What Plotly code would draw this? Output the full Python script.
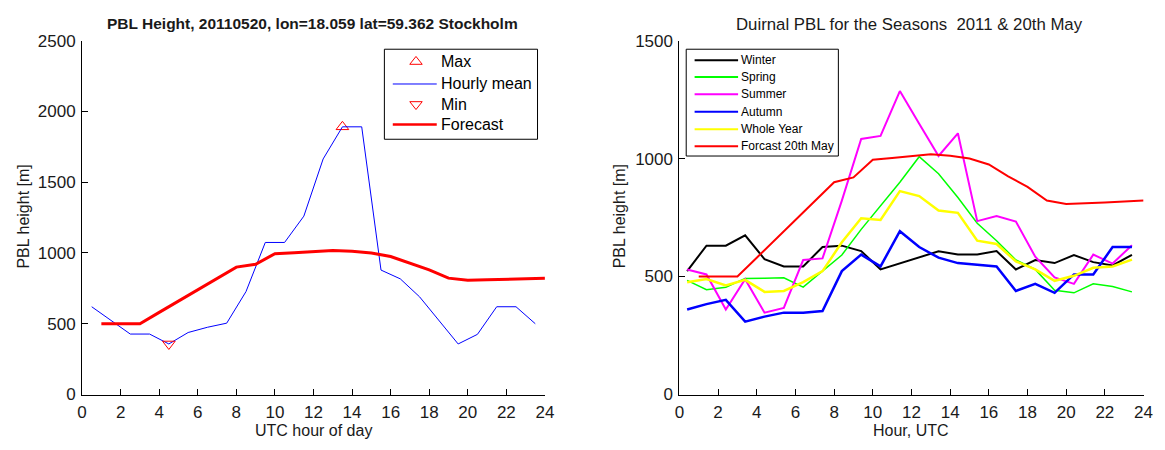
import plotly.graph_objects as go

# ---- Stockholm, 2011-05-20: hourly mean PBL height and forecast ----
hour_mid = [0.5, 1.5, 2.5, 3.5, 4.5, 5.5, 6.5, 7.5, 8.5, 9.5, 10.5, 11.5,
            12.5, 13.5, 14.5, 15.5, 16.5, 17.5, 18.5, 19.5, 20.5, 21.5, 22.5, 23.5]
hourly_mean = [620, 525, 427, 427, 357, 438, 475, 504, 727, 1074, 1074, 1260,
               1664, 1891, 1891, 879, 817, 690, 520, 357, 425, 620, 620, 500]
max_hour = [13.5]
max_value = [1891]
min_hour = [4.5]
min_value = [357]

forecast_hour = [1, 2, 3, 4, 5, 6, 7, 8, 9, 10, 11, 12,
                 13, 14, 15, 16, 17, 18, 19, 20, 21, 22, 23, 24]
forecast = [500, 500, 500, 580, 660, 740, 820, 900, 920, 995, 1002, 1010,
            1018, 1012, 1000, 975, 925, 880, 822, 808, 810, 814, 818, 822]

# ---- Seasonal diurnal means, 2011 ----
season_hour = [0.4, 1.4, 2.4, 3.4, 4.4, 5.4, 6.4, 7.4, 8.4, 9.4, 10.4, 11.4,
               12.4, 13.4, 14.4, 15.4, 16.4, 17.4, 18.4, 19.4, 20.4, 21.4, 22.4, 23.4]
winter = [523, 631, 631, 675, 574, 543, 543, 625, 631, 608, 530, 555,
          580, 607, 593, 593, 608, 530, 570, 557, 591, 561, 547, 592]
spring = [484, 444, 455, 492, 493, 495, 455, 523, 591, 700, 801, 900,
          1008, 936, 835, 726, 652, 570, 530, 442, 431, 469, 458, 435]
summer = [530, 509, 360, 489, 347, 367, 570, 577, 822, 1083, 1096, 1286,
          1148, 1011, 1107, 735, 756, 733, 584, 496, 469, 593, 555, 633]
autumn = [360, 383, 401, 309, 330, 347, 347, 354, 523, 593, 543, 692,
          625, 580, 557, 550, 543, 439, 469, 431, 509, 509, 625, 625]
whole_year = [476, 489, 462, 486, 435, 439, 476, 523, 645, 747, 740, 862,
              841, 780, 770, 652, 638, 564, 530, 482, 503, 537, 543, 572]

season_names = ["Winter", "Spring", "Summer", "Autumn", "Whole Year"]
season_values = [winter, spring, summer, autumn, whole_year]
season_colors = ["#000000", "#00FF00", "#FF00FF", "#0000FF", "#FFFF00"]
season_widths = [2, 1.5, 2, 2.5, 2.5]

W, H = 1165, 450
FONT = "Liberation Sans, Arial, Helvetica, sans-serif"
TEXT = "#1a1a1a"


def px_x(x):
    return x / W


def px_y(y):
    return 1 - y / H


fig = go.Figure()

# left panel
fig.add_trace(go.Scatter(
    x=max_hour, y=max_value, mode="markers", name="Max",
    marker=dict(symbol="triangle-up-open", color="#FF0000", size=11,
                line=dict(width=1)),
    xaxis="x", yaxis="y"))
fig.add_trace(go.Scatter(
    x=hour_mid, y=hourly_mean, mode="lines", name="Hourly mean",
    line=dict(color="#0000FF", width=1),
    xaxis="x", yaxis="y"))
fig.add_trace(go.Scatter(
    x=min_hour, y=min_value, mode="markers", name="Min",
    marker=dict(symbol="triangle-down-open", color="#FF0000", size=11,
                line=dict(width=1)),
    xaxis="x", yaxis="y"))
fig.add_trace(go.Scatter(
    x=forecast_hour, y=forecast, mode="lines", name="Forecast",
    line=dict(color="#FF0000", width=3),
    xaxis="x", yaxis="y"))

# right panel
for name, vals, col, lw in zip(season_names, season_values, season_colors, season_widths):
    fig.add_trace(go.Scatter(
        x=season_hour, y=vals, mode="lines", name=name,
        line=dict(color=col, width=lw),
        xaxis="x2", yaxis="y2"))
fig.add_trace(go.Scatter(
    x=forecast_hour, y=forecast, mode="lines", name="Forcast 20th May",
    line=dict(color="#FF0000", width=2),
    xaxis="x2", yaxis="y2"))

y_dom = [px_y(402.5), px_y(33)]
axis_common = dict(
    showgrid=False, zeroline=False, showline=True, linecolor="#000000",
    linewidth=1, ticks="inside", ticklen=6, tickcolor="#000000",
    tickfont=dict(family=FONT, size=17, color=TEXT), mirror=False,
)

fig.update_layout(
    width=W, height=H,
    margin=dict(l=0, r=0, t=0, b=0),
    paper_bgcolor="white", plot_bgcolor="white",
    font=dict(family=FONT, color="#000000"),
    showlegend=False,
    xaxis=dict(domain=[px_x(78), px_x(546.5)], range=[0, 24], dtick=2,
               anchor="y", ticklabelstandoff=2, **axis_common),
    yaxis=dict(domain=y_dom, range=[0, 2500], dtick=500, anchor="x",
               ticklabelstandoff=2, **axis_common),
    xaxis2=dict(domain=[px_x(682.6), px_x(1152.4)], range=[0, 24], dtick=2,
                anchor="y2", ticklabelstandoff=2, **axis_common),
    yaxis2=dict(domain=y_dom, range=[0, 1500], dtick=500, anchor="x2",
                ticklabelstandoff=2, **axis_common),
)

annotations = [
    dict(text="<b>PBL Height, 20110520, lon=18.059 lat=59.362 Stockholm</b>",
         x=px_x(311), y=px_y(15), font=dict(size=15.5)),
    dict(text="Duirnal PBL for the Seasons \u00a02011 &amp; 20th May",
         x=px_x(915), y=px_y(16), font=dict(size=16.8)),
    dict(text="UTC hour of day", x=px_x(312), y=px_y(440), font=dict(size=16)),
    dict(text="Hour, UTC", x=px_x(917), y=px_y(440), font=dict(size=16)),
    dict(text="PBL height [m]", x=px_x(19), y=px_y(217), textangle=-90,
         font=dict(size=16)),
    dict(text="PBL height [m]", x=px_x(622), y=px_y(217), textangle=-90,
         font=dict(size=16)),
]
for a in annotations:
    a.update(xanchor="center", yanchor="middle")

shapes = []


# Legend boxes, drawn in figure pixels
def legend_box(x0, y0, x1, y1):
    shapes.append(dict(type="rect", xref="paper", yref="paper",
                       x0=px_x(x0), x1=px_x(x1), y0=px_y(y1), y1=px_y(y0),
                       fillcolor="white", line=dict(color="#000000", width=1),
                       layer="above"))


def legend_line(x0, x1, y, color, width):
    shapes.append(dict(type="line", xref="paper", yref="paper",
                       x0=px_x(x0), x1=px_x(x1), y0=px_y(y), y1=px_y(y),
                       line=dict(color=color, width=width), layer="above"))


def legend_triangle(cx, cy, up):
    half_w, h = 6.3, 8.2
    if up:
        pts = [(cx - half_w, cy + h / 3), (cx + half_w, cy + h / 3), (cx, cy - 2 * h / 3)]
    else:
        pts = [(cx - half_w, cy - h / 3), (cx + half_w, cy - h / 3), (cx, cy + 2 * h / 3)]
    path = "M " + " L ".join(f"{px_x(x):.5f},{px_y(y):.5f}" for x, y in pts) + " Z"
    shapes.append(dict(type="path", xref="paper", yref="paper", path=path,
                       line=dict(color="#FF0000", width=1), layer="above"))


def legend_text(x, y, text, size):
    annotations.append(dict(text=text, x=px_x(x), y=px_y(y), xanchor="left",
                            yanchor="middle", font=dict(size=size, color="#000000")))


# left legend
legend_box(384, 42, 539, 136)
left_rows = [55, 78.3, 99.5, 120.7]
legend_triangle(416, left_rows[0], True)
legend_text(439, left_rows[0], "Max", 16)
legend_line(392.5, 437, left_rows[1], "#0000FF", 1)
legend_text(439, left_rows[1], "Hourly mean", 16)
legend_triangle(416, left_rows[2], False)
legend_text(439, left_rows[2], "Min", 16)
legend_line(392.5, 437, left_rows[3], "#FF0000", 2.5)
legend_text(439, left_rows[3], "Forecast", 16)

# right legend
legend_box(689.5, 42, 843.5, 153.5)
right_rows = [53.5, 71, 89, 107.3, 125.5, 143.3]
right_names = season_names + ["Forcast 20th May"]
right_colors = season_colors + ["#FF0000"]
for ry, nm, col in zip(right_rows, right_names, right_colors):
    legend_line(698, 742, ry, col, 2)
    legend_text(743, ry, nm, 12)

for a in annotations:
    a.update(xref="paper", yref="paper", showarrow=False)
    a["font"].update(family=FONT)
    a["font"].setdefault("color", TEXT)

fig.update_layout(annotations=annotations, shapes=shapes)

fig.write_html("out.html")
